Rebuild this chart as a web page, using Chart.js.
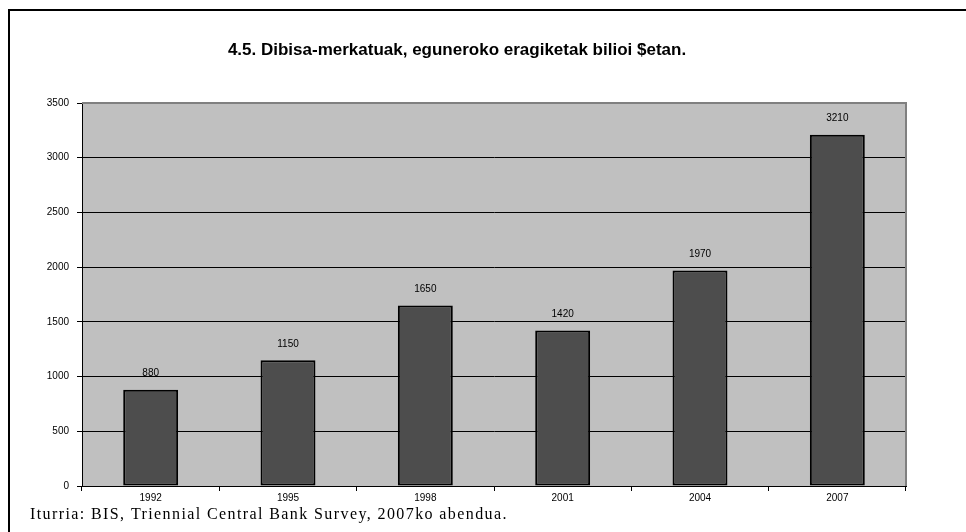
<!DOCTYPE html>
<html lang="eu">
<head>
  <meta charset="UTF-8" />
  <title>Dibisa-merkatuak</title>
  <style>
    body { margin: 0; background: #fff; }
    #wrap { position: relative; width: 966px; height: 532px; }
    #chart { position: absolute; left: 0; top: 0; }
  </style>
</head>
<body>
  <div id="wrap">
    <canvas id="chart" width="966" height="532"></canvas>
  </div>

  <script src="https://cdn.jsdelivr.net/npm/chart.js"></script>
  <script>
    // Data
    const years = ['1992', '1995', '1998', '2001', '2004', '2007'];
    const turnover = [880, 1150, 1650, 1420, 1970, 3210];
    const yTicks = [0, 500, 1000, 1500, 2000, 2500, 3000, 3500];

    const titleText = '4.5. Dibisa-merkatuak, eguneroko eragiketak bilioi $etan.';
    const sourceText = 'Iturria: BIS, Triennial Central Bank Survey, 2007ko abendua.';

    const sans = "'Liberation Sans', Arial, sans-serif";

    // plot background, frame, gray top/right border, value labels, title and source
    const decor = {
      id: 'decor',
      beforeDraw(chart) {
        const { ctx, chartArea: a } = chart;
        ctx.save();
        ctx.fillStyle = '#c0c0c0';
        ctx.fillRect(a.left, a.top, a.right - a.left, a.bottom - a.top);
        ctx.restore();
      },
      afterDatasetsDraw(chart) {
        const { ctx, chartArea: a } = chart;
        ctx.save();
        // gray top and right border of the plot area
        ctx.strokeStyle = '#808080';
        ctx.lineWidth = 2;
        ctx.beginPath();
        ctx.moveTo(a.left, a.top);
        ctx.lineTo(a.right, a.top);
        ctx.lineTo(a.right, a.bottom);
        ctx.stroke();

        // value labels above bars
        const meta = chart.getDatasetMeta(0);
        ctx.fillStyle = '#000';
        ctx.font = '10px ' + sans;
        ctx.textAlign = 'center';
        ctx.textBaseline = 'middle';
        meta.data.forEach((bar, i) => {
          ctx.fillText(String(turnover[i]), bar.x, bar.y - 16);
        });

        // title
        ctx.font = 'bold 17px ' + sans;
        ctx.textBaseline = 'alphabetic';
        ctx.fillText(titleText, 457, 55);

        // source
        ctx.font = "16px 'Liberation Serif', 'Times New Roman', serif";
        ctx.textAlign = 'left';
        ctx.letterSpacing = '1.4px';
        ctx.fillText(sourceText, 30, 519);
        ctx.letterSpacing = '0px';

        // outer frame
        ctx.strokeStyle = '#000';
        ctx.lineWidth = 2;
        ctx.beginPath();
        ctx.moveTo(9, 532);
        ctx.lineTo(9, 10);
        ctx.lineTo(966, 10);
        ctx.stroke();
        ctx.restore();
      }
    };

    new Chart(document.getElementById('chart'), {
      type: 'bar',
      data: {
        labels: years,
        datasets: [{
          data: turnover,
          backgroundColor: '#4d4d4d',
          borderColor: '#000',
          borderWidth: 2,
          borderSkipped: false,
          categoryPercentage: 1,
          barPercentage: 0.4
        }]
      },
      options: {
        responsive: false,
        animation: false,
        events: [],
        layout: { padding: { left: 0, top: 103, right: 60, bottom: 0 } },
        plugins: {
          legend: { display: false },
          title: { display: false },
          tooltip: { enabled: false }
        },
        scales: {
          x: {
            afterFit(scale) { scale.height = 46; },
            border: { color: '#000', width: 1 },
            grid: {
              offset: true,
              drawOnChartArea: false,
              drawTicks: true,
              tickLength: 5,
              color: '#000'
            },
            ticks: {
              color: '#000',
              font: { family: sans, size: 10 },
              padding: 1,
              maxRotation: 0
            }
          },
          y: {
            min: 0,
            max: 3500,
            afterFit(scale) { scale.width = 82; },
            afterBuildTicks(scale) {
              scale.ticks = yTicks.map(v => ({ value: v }));
            },
            border: { color: '#000', width: 1 },
            grid: {
              color: '#000',
              lineWidth: 1,
              tickLength: 5
            },
            ticks: {
              color: '#000',
              font: { family: sans, size: 10 },
              padding: 8,
              callback: v => String(v)
            }
          }
        }
      },
      plugins: [decor]
    });
  </script>
</body>
</html>
